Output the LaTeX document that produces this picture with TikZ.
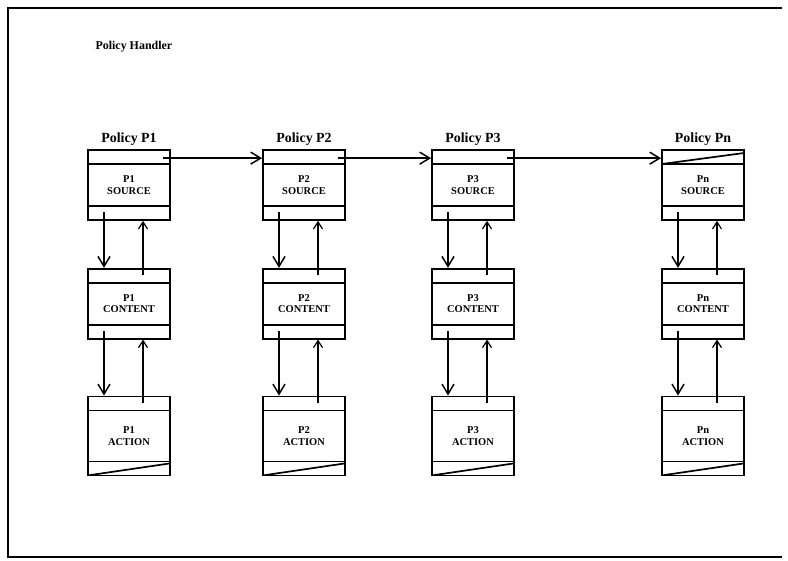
\documentclass[tikz,border=0pt]{standalone}
\usepackage{fontspec}
\setmainfont{Liberation Serif}
\usetikzlibrary{arrows.meta,positioning}

% stripes inside the policy boxes
\newcommand\bartop{\draw[line width=1.7bp] ([yshift=-14bp]path picture bounding box.north west) -- ([yshift=-14bp]path picture bounding box.north east);}
\newcommand\barbot{\draw[line width=1.7bp] ([yshift=14bp]path picture bounding box.south west) -- ([yshift=14bp]path picture bounding box.south east);}
\newcommand\slashtop{\draw[line width=1.7bp] ([yshift=-14bp]path picture bounding box.north west) -- ([yshift=-3bp]path picture bounding box.north east);}
\newcommand\slashbot{\draw[line width=1.7bp] (path picture bounding box.south west) -- ([yshift=12bp]path picture bounding box.south east);}

\begin{document}
\begin{tikzpicture}[x=1bp, y=-1bp,
  node distance=47bp,
  box/.style={draw, line width=1.7bp, minimum width=82bp, minimum height=70bp, inner sep=0pt, align=center, font=\fontsize{10.5}{11.5}\selectfont\bfseries},
  srcbox/.style={box, path picture={\bartop\barbot}},
  srclast/.style={box, path picture={\bartop\slashtop\barbot}},
  conbox/.style={box, path picture={\bartop\barbot}},
  actbox/.style={box, minimum height=79bp, path picture={\bartop\barbot\slashbot}},
  title/.style={anchor=base, font=\fontsize{14}{16}\selectfont\bfseries},
  link/.style={->, line width=1.5bp},
  up/.style={-{Straight Barb[length=7bp,width=9bp]}, line width=1.2bp},
  >={Straight Barb[length=10bp,width=12bp]}
]
\useasboundingbox (0,0) rectangle (788,561);
\draw[line width=1.5bp] (782,8) -- (8,8) -- (8,557) -- (782,557);
\node[anchor=base west, font=\fontsize{12}{14}\selectfont\bfseries] (handler) at (92,50) {Policy Handler};

\node[srcbox] (src1) at (129,185) {P1\\SOURCE};
\node[srcbox] (src2) at (304,185) {P2\\SOURCE};
\node[srcbox] (src3) at (473,185) {P3\\SOURCE};
\node[srclast] (srcn) at (703,185) {Pn\\SOURCE};

\node[title] (pol1) at ([yshift=7bp]src1.north) {Policy P1};
\node[title] (pol2) at ([yshift=7bp]src2.north) {Policy P2};
\node[title] (pol3) at ([yshift=7bp]src3.north) {Policy P3};
\node[title] (poln) at ([yshift=7bp]srcn.north) {Policy Pn};

\node[conbox, below=of src1] (con1) {P1\\CONTENT};
\node[conbox, below=of src2] (con2) {P2\\CONTENT};
\node[conbox, below=of src3] (con3) {P3\\CONTENT};
\node[conbox, below=of srcn] (conn) {Pn\\CONTENT};

\node[actbox, below=56bp of con1] (act1) {P1\\ACTION};
\node[actbox, below=56bp of con2] (act2) {P2\\ACTION};
\node[actbox, below=56bp of con3] (act3) {P3\\ACTION};
\node[actbox, below=56bp of conn] (actn) {Pn\\ACTION};

% chain of policies
\draw[link] ([xshift=-8bp,yshift=-9bp]src1.north east) -- ([yshift=-9bp]src2.north west);
\draw[link] ([xshift=-8bp,yshift=-9bp]src2.north east) -- ([yshift=-9bp]src3.north west);
\draw[link] ([xshift=-8bp,yshift=-9bp]src3.north east) -- ([yshift=-9bp]srcn.north west);

% source <-> content <-> action
\draw[link] ([xshift=-25bp,yshift=9bp]src1.south) -- ([xshift=-25bp]con1.north);
\draw[up] ([xshift=14bp,yshift=-7bp]con1.north) -- ([xshift=14bp]src1.south);
\draw[link] ([xshift=-25bp,yshift=9bp]con1.south) -- ([xshift=-25bp]act1.north);
\draw[up] ([xshift=14bp,yshift=-7bp]act1.north) -- ([xshift=14bp]con1.south);

\draw[link] ([xshift=-25bp,yshift=9bp]src2.south) -- ([xshift=-25bp]con2.north);
\draw[up] ([xshift=14bp,yshift=-7bp]con2.north) -- ([xshift=14bp]src2.south);
\draw[link] ([xshift=-25bp,yshift=9bp]con2.south) -- ([xshift=-25bp]act2.north);
\draw[up] ([xshift=14bp,yshift=-7bp]act2.north) -- ([xshift=14bp]con2.south);

\draw[link] ([xshift=-25bp,yshift=9bp]src3.south) -- ([xshift=-25bp]con3.north);
\draw[up] ([xshift=14bp,yshift=-7bp]con3.north) -- ([xshift=14bp]src3.south);
\draw[link] ([xshift=-25bp,yshift=9bp]con3.south) -- ([xshift=-25bp]act3.north);
\draw[up] ([xshift=14bp,yshift=-7bp]act3.north) -- ([xshift=14bp]con3.south);

\draw[link] ([xshift=-25bp,yshift=9bp]srcn.south) -- ([xshift=-25bp]conn.north);
\draw[up] ([xshift=14bp,yshift=-7bp]conn.north) -- ([xshift=14bp]srcn.south);
\draw[link] ([xshift=-25bp,yshift=9bp]conn.south) -- ([xshift=-25bp]actn.north);
\draw[up] ([xshift=14bp,yshift=-7bp]actn.north) -- ([xshift=14bp]conn.south);
\end{tikzpicture}
\end{document}
